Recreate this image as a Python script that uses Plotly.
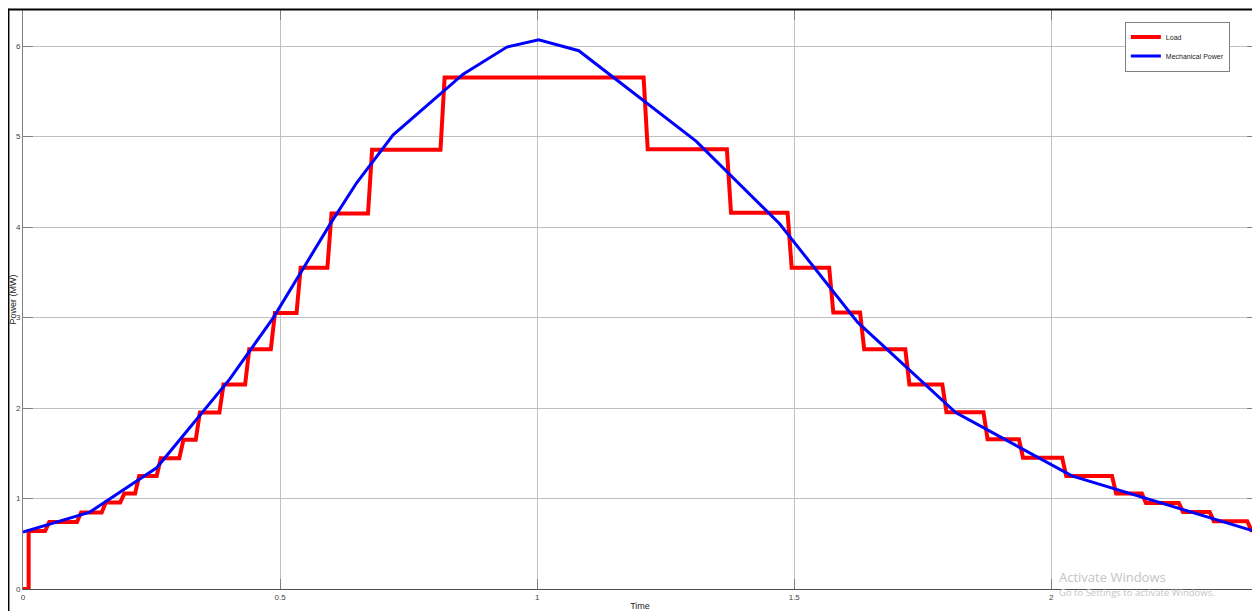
import plotly.graph_objects as go

# Load: step times (s) and the level reached after each step (MW)
load_step_times = [0.011, 0.043, 0.105, 0.153, 0.189, 0.218, 0.260, 0.304, 0.336,
                   0.382, 0.432, 0.482, 0.532, 0.592, 0.671, 0.812,
                   1.207, 1.369, 1.487, 1.568, 1.628, 1.716, 1.788, 1.868, 1.937,
                   2.021, 2.118, 2.176, 2.248, 2.308, 2.381]
load_levels = [0.64, 0.74, 0.845, 0.955, 1.055, 1.25, 1.445, 1.65, 1.95,
               2.26, 2.65, 3.05, 3.55, 4.15, 4.855, 5.655,
               4.86, 4.16, 3.55, 3.055, 2.65, 2.26, 1.955, 1.654, 1.452,
               1.25, 1.055, 0.95, 0.852, 0.75, 0.65]

# Mechanical power: breakpoints
mech_t = [0.0, 0.130, 0.260, 0.402, 0.487, 0.597, 0.649, 0.720, 0.856, 0.941,
          1.003, 1.081, 1.309, 1.471, 1.623, 1.814, 2.040, 2.400]
mech_p = [0.63, 0.85, 1.34, 2.32, 3.00, 4.03, 4.49, 5.02, 5.69, 5.99,
          6.07, 5.95, 4.95, 4.04, 2.95, 1.95, 1.25, 0.63]

t_end = 2.4
ramp = 0.008

# build the load trace (short ramps between levels, as in the simulation output)
load_x, load_y = [0.0], [0.0]
prev = 0.0
for t, lv in zip(load_step_times, load_levels):
    load_x.append(t)
    load_y.append(prev)
    load_x.append(t + (ramp if prev > 0 else 0.0))
    load_y.append(lv)
    prev = lv
load_x.append(t_end)
load_y.append(prev)

fig = go.Figure()

fig.add_trace(go.Scatter(x=load_x, y=load_y, mode="lines", name="Load",
                         line=dict(color="#ff0000", width=4)))
fig.add_trace(go.Scatter(x=mech_t, y=mech_p, mode="lines", name="Mechanical Power",
                         line=dict(color="#0000ff", width=3)))

axis_common = dict(
    showgrid=True, gridcolor="#c0c0c0", gridwidth=1,
    showline=True, linecolor="#808080", linewidth=1,
    ticks="inside", ticklen=10, tickcolor="#808080",
    mirror="ticks", zeroline=False,
    tickfont=dict(family="Liberation Sans, Arial", size=8, color="#444"),
)

fig.update_xaxes(range=[0, t_end], tickvals=[0, 0.5, 1, 1.5, 2],
                 ticktext=["0", "0.5", "1", "1.5", "2"],
                 title=dict(text="Time", standoff=3,
                            font=dict(family="Liberation Sans, Arial", size=9, color="#222")),
                 automargin=False, **axis_common)
fig.update_xaxes(linecolor="#505050")
fig.update_yaxes(range=[0, 6.4], tickvals=[0, 1, 2, 3, 4, 5, 6],
                 title=dict(text="Power (MW)", standoff=0,
                            font=dict(family="Liberation Sans, Arial", size=9, color="#222")),
                 automargin=False, **axis_common)

# screenshot frame
frame = dict(type="line", xref="paper", yref="paper", line=dict(color="black", width=2))
fig.add_shape(x0=-0.0118, x1=-0.0118, y0=1.002, y1=-0.04, **frame)
fig.add_shape(x0=-0.0125, x1=1.0008, y0=1.0009, y1=1.0009, **frame)
fig.add_shape(x0=1.0008, x1=1.0008, y0=1.0009, y1=0.08, **frame)

# watermark text
fig.add_annotation(text="Activate Windows", xref="paper", yref="paper",
                   x=0.838, y=0.001, xanchor="left", yanchor="bottom", showarrow=False,
                   font=dict(family="Open Sans", size=13, color="#c4c4c4"))
fig.add_annotation(text="Go to Settings to activate Windows.", xref="paper", yref="paper",
                   x=0.838, y=0.008, xanchor="left", yanchor="top", showarrow=False,
                   font=dict(family="Open Sans", size=9.5, color="#c4c4c4"))

fig.update_layout(
    width=1252, height=603,
    margin=dict(l=15, r=3, t=2, b=22),
    paper_bgcolor="white", plot_bgcolor="white",
    showlegend=True,
    legend=dict(x=0.978, y=0.98, xanchor="right", yanchor="top",
                bgcolor="white", bordercolor="#808080", borderwidth=1,
                font=dict(family="Liberation Sans, Arial", size=7, color="#222"),
                itemwidth=30, tracegroupgap=0),
)

fig.write_html("out.html")
